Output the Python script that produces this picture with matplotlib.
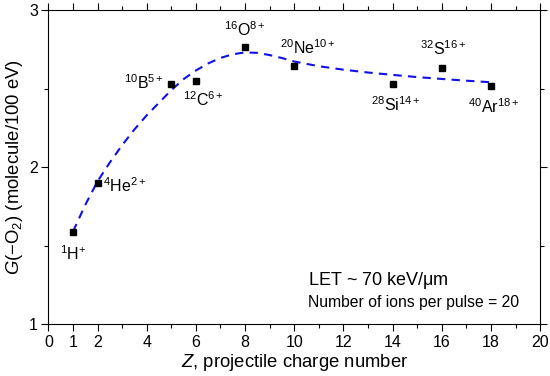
import matplotlib
matplotlib.use("Agg")
import matplotlib.pyplot as plt
from matplotlib.ticker import FixedLocator

plt.rcParams['font.family'] = ['Liberation Sans', 'DejaVu Sans']
plt.rcParams['mathtext.fontset'] = 'custom'
plt.rcParams['mathtext.rm'] = 'Liberation Sans'
plt.rcParams['mathtext.it'] = 'Liberation Sans:italic'
plt.rcParams['mathtext.default'] = 'rm'

# Data points
Z = [1, 2, 5, 6, 8, 10, 14, 16, 18]
G = [1.59, 1.90, 2.53, 2.545, 2.765, 2.645, 2.53, 2.63, 2.518]
labels = [r"$^{1}$H$^{+}$", r"$^{4}$He$^{2+}$", r"$^{10}$B$^{5+}$", r"$^{12}$C$^{6+}$",
          r"$^{16}$O$^{8+}$", r"$^{20}$Ne$^{10+}$", r"$^{28}$Si$^{14+}$",
          r"$^{32}$S$^{16+}$", r"$^{40}$Ar$^{18+}$"]

# Fitted curve
curve_x = [1, 1.5, 2, 2.5, 3, 3.5, 4, 4.5, 5, 5.5, 6, 6.5, 7, 7.5, 8, 8.5, 9, 9.5,
           10, 11, 12, 13, 14, 15, 16, 17, 18]
curve_y = [1.59, 1.76, 1.91, 2.03, 2.14, 2.24, 2.33, 2.41, 2.49, 2.56, 2.615, 2.66,
           2.695, 2.718, 2.73, 2.727, 2.713, 2.694, 2.672, 2.642, 2.62, 2.602, 2.587,
           2.573, 2.561, 2.55, 2.54]

# label offsets (points) and alignment
offsets = [(0, -9, 'center', 'top'), (4, -2, 'left', 'center'), (-5, 1, 'right', 'center'),
           (-9, -6, 'left', 'top'), (0, 6, 'center', 'bottom'), (-10, 6, 'left', 'bottom'),
           (2, -8, 'center', 'top'), (1, 7, 'center', 'bottom'), (2, -8, 'center', 'top')]

fig = plt.figure(figsize=(5.5, 3.76), dpi=100)
ax = fig.add_axes([0.088, 0.1375, 0.894, 0.836])

ax.plot(curve_x, curve_y, color='#1010e8', linestyle=(0, (4, 3)), linewidth=1.5, zorder=2)
ax.plot(Z, G, linestyle='none', marker='s', color='black', markersize=5, zorder=3)

for x, y, lab, (dx, dy, ha, va) in zip(Z, G, labels, offsets):
    ax.annotate(lab, (x, y), xytext=(dx, dy), textcoords='offset points',
                ha=ha, va=va, fontsize=11.5)

ax.set_xlim(0, 20)
ax.set_ylim(1, 3)
ax.xaxis.set_major_locator(FixedLocator([0, 1, 2, 4, 6, 8, 10, 12, 14, 16, 18, 20]))
ax.xaxis.set_minor_locator(FixedLocator([3, 5, 7, 9, 11, 13, 15, 17, 19]))
ax.yaxis.set_major_locator(FixedLocator([1, 2, 3]))
ax.yaxis.set_minor_locator(FixedLocator([1.5, 2.5]))
ax.tick_params(which='both', direction='out', top=True, right=True, labelsize=11.5)
ax.tick_params(which='major', length=5, width=0.8, pad=2.5)
ax.tick_params(which='minor', length=3, width=0.8)

ax.set_xlabel(r"$\it{Z}$, projectile charge number", fontsize=13.3, labelpad=2)
ax.set_ylabel(r"$\it{G}$(−O$_2$) (molecule/100 eV)", fontsize=13.3, labelpad=3)

ax.text(0.527, 0.14, r"LET ~ 70 keV/$\mu$m", transform=ax.transAxes, fontsize=13, ha='left', va='center')
ax.text(0.527, 0.07, "Number of ions per pulse = 20", transform=ax.transAxes, fontsize=11.3, ha='left', va='center')

fig.savefig("out.png", dpi=100)
